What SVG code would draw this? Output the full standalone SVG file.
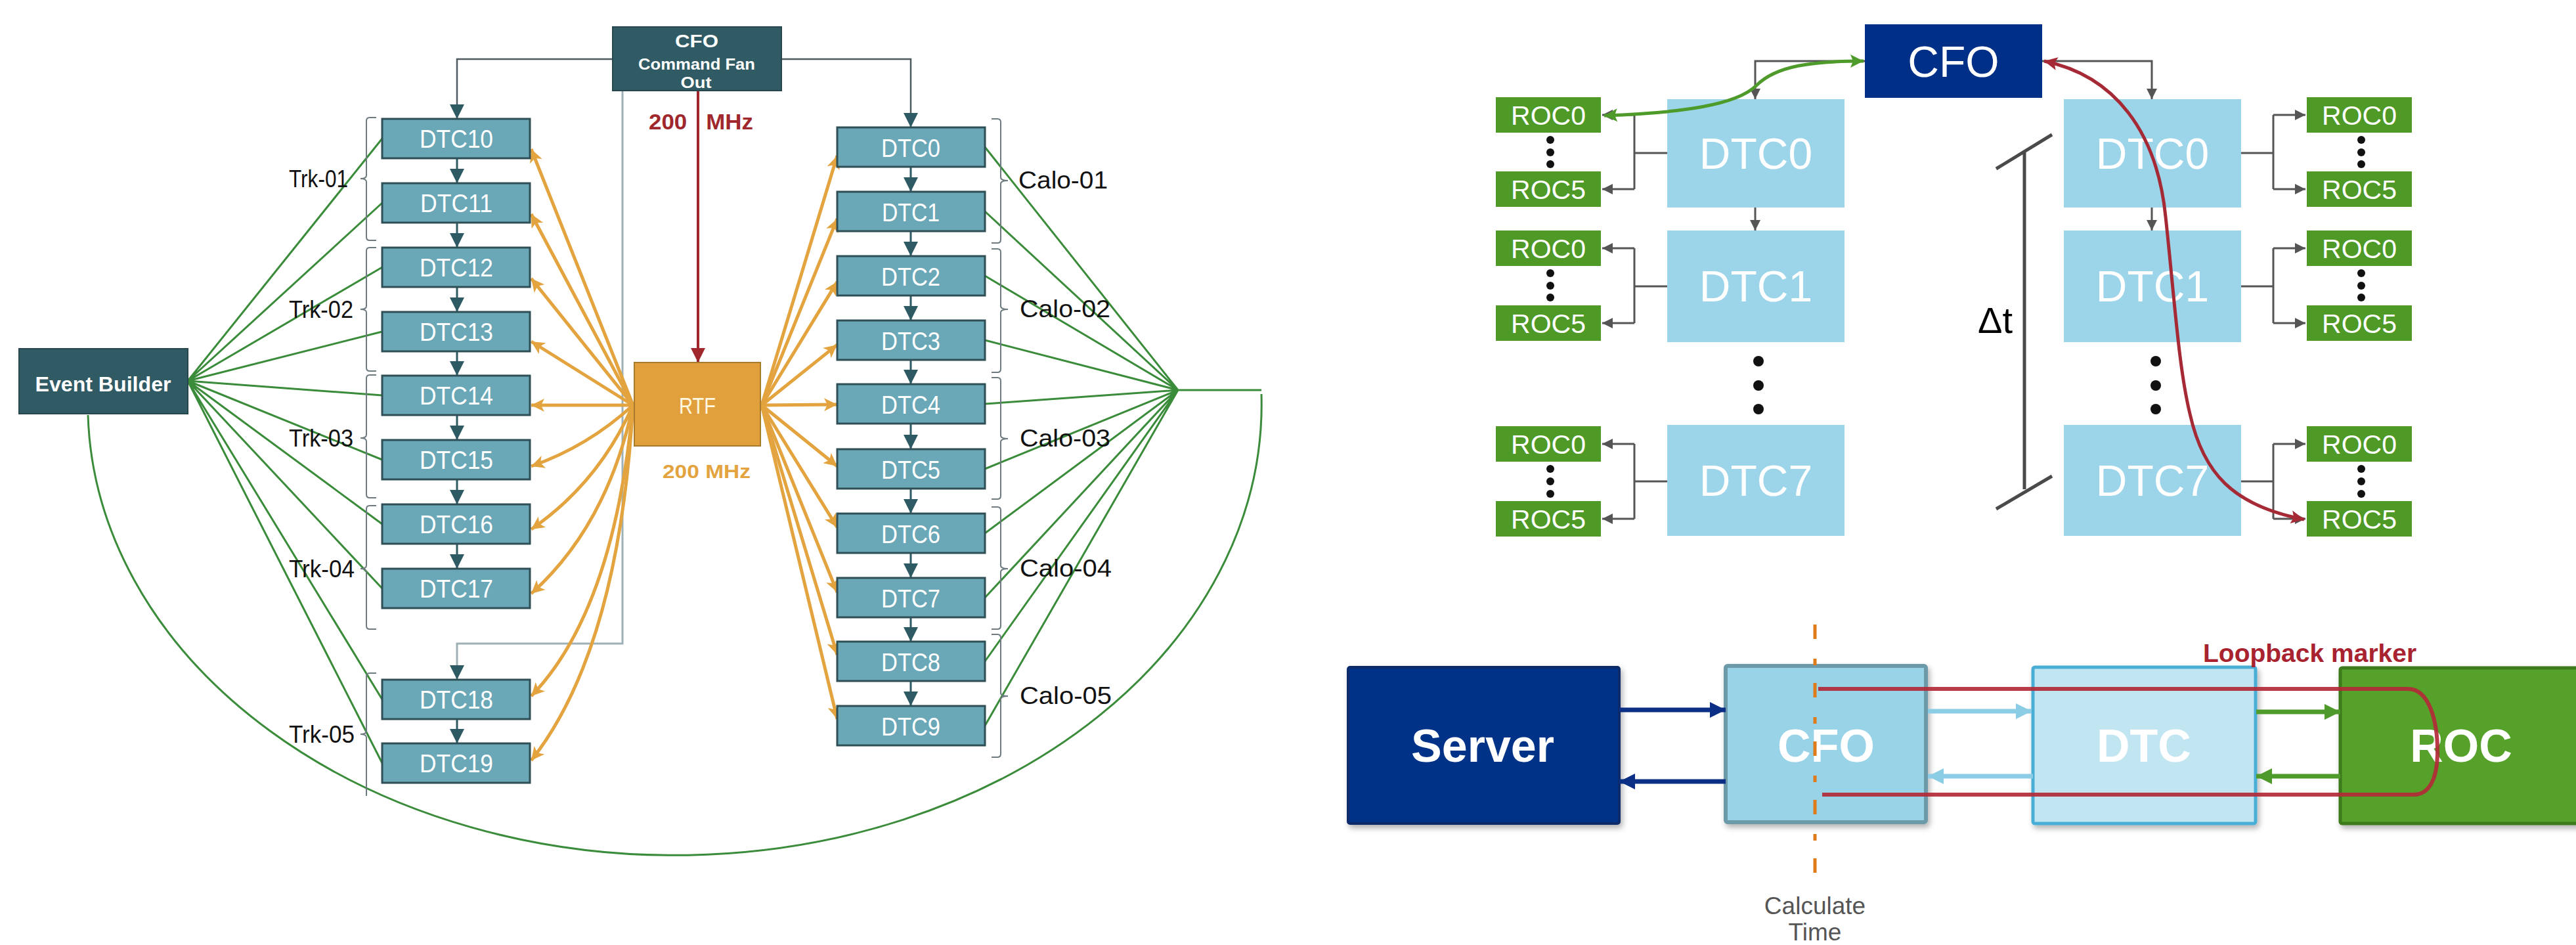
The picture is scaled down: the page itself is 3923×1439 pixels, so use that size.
<svg xmlns="http://www.w3.org/2000/svg" width="3923" height="1439" viewBox="0 0 3923 1439">
<style>
.dtc{fill:#6AA7B7;stroke:#2F4F57;stroke-width:3}
.dk{fill:#305B64;stroke:#27464D;stroke-width:2}
.dl{font-family:"Liberation Sans",Arial,sans-serif;font-size:38px;fill:#fff;text-anchor:middle}
.lbl{font-family:"Liberation Sans",Arial,sans-serif;font-size:36px;fill:#111}
.br{fill:none;stroke:#6d7b80;stroke-width:2}
.gr{fill:none;stroke:#3A8C3A;stroke-width:3}
.or{fill:none;stroke:#E3A33E;stroke-width:5;marker-end:url(#mO)}
.tl{fill:none;stroke:#2E5A64;stroke-width:3;marker-end:url(#mT)}
.roc{fill:#4F9A26}
.rl{font-family:"Liberation Sans",Arial,sans-serif;font-size:41px;fill:#fff;text-anchor:middle}
.lb{fill:#9CD5E9}
.bl{font-family:"Liberation Sans",Arial,sans-serif;font-size:66px;fill:#fff;text-anchor:middle}
.gc{fill:none;stroke:#555;stroke-width:3}
.ga{fill:none;stroke:#555;stroke-width:3;marker-end:url(#mG)}
.bb{font-family:"Liberation Sans",Arial,sans-serif;font-size:70px;font-weight:bold;fill:#fff;text-anchor:middle}
</style>
<defs>
<marker id="mT" viewBox="0 0 10 10" refX="10" refY="5" markerWidth="22" markerHeight="22" markerUnits="userSpaceOnUse" orient="auto"><path d="M0,0 L10,5 L0,10 z" fill="#2E5A64"/></marker>
<marker id="mO" viewBox="0 0 10 10" refX="10" refY="5" markerWidth="26" markerHeight="20" markerUnits="userSpaceOnUse" orient="auto"><path d="M0,0 L10,5 L0,10 L2.5,5 z" fill="#E3A33E"/></marker>
<marker id="mR" viewBox="0 0 10 10" refX="10" refY="5" markerWidth="22" markerHeight="22" markerUnits="userSpaceOnUse" orient="auto"><path d="M0,0 L10,5 L0,10 z" fill="#A0282D"/></marker>
<marker id="mG" viewBox="0 0 10 10" refX="10" refY="5" markerWidth="18" markerHeight="16" markerUnits="userSpaceOnUse" orient="auto"><path d="M0,0 L10,5 L0,10 z" fill="#555"/></marker>
<marker id="mGr" viewBox="0 0 10 10" refX="10" refY="5" markerWidth="24" markerHeight="20" markerUnits="userSpaceOnUse" orient="auto-start-reverse"><path d="M0,0 L10,5 L0,10 L2,5 z" fill="#4E9A2A"/></marker>
<marker id="mRd" viewBox="0 0 10 10" refX="10" refY="5" markerWidth="24" markerHeight="20" markerUnits="userSpaceOnUse" orient="auto-start-reverse"><path d="M0,0 L10,5 L0,10 L2,5 z" fill="#A52A35"/></marker>
<marker id="mN" viewBox="0 0 10 10" refX="10" refY="5" markerWidth="24" markerHeight="30" markerUnits="userSpaceOnUse" orient="auto"><path d="M0,0 L10,5 L0,10 z" fill="#0A2F85"/></marker>
<marker id="mLB" viewBox="0 0 10 10" refX="10" refY="5" markerWidth="24" markerHeight="30" markerUnits="userSpaceOnUse" orient="auto"><path d="M0,0 L10,5 L0,10 z" fill="#8CCDE6"/></marker>
<marker id="mGG" viewBox="0 0 10 10" refX="10" refY="5" markerWidth="24" markerHeight="30" markerUnits="userSpaceOnUse" orient="auto"><path d="M0,0 L10,5 L0,10 z" fill="#4E9A2A"/></marker>
<filter id="sh" x="-10%" y="-10%" width="130%" height="130%"><feDropShadow dx="3" dy="5" stdDeviation="4" flood-color="#000" flood-opacity="0.3"/></filter>
</defs>

<!-- ============ LEFT DIAGRAM ============ -->
<g id="connectors-left">
  <path class="gr" d="M286,580 L582,211 M286,580 L582,309 M286,580 L582,407 M286,580 L582,505 M286,580 L582,602 M286,580 L582,700 M286,580 L582,798 M286,580 L582,896 M286,580 L582,1065 M286,580 L582,1162"/>
  <path class="gr" d="M1500,224 L1794,594 M1500,322 L1794,594 M1500,420 L1794,594 M1500,518 L1794,594 M1500,615 L1794,594 M1500,714 L1794,594 M1500,812 L1794,594 M1500,910 L1794,594 M1500,1007 L1794,594 M1500,1105 L1794,594 M1794,594 L1921,594"/>
  <path class="gr" d="M1921,600 A893,686 0 0 1 134,632"/>
  <path d="M933,90 L696,90 L696,181" fill="none" stroke="#4d5b60" stroke-width="2.5" marker-end="url(#mT)"/>
  <path d="M1190,90 L1387,90 L1387,194" fill="none" stroke="#4d5b60" stroke-width="2.5" marker-end="url(#mT)"/>
  <path d="M948,138 L948,980 L696,980 L696,1035" fill="none" stroke="#9fb1b6" stroke-width="3" marker-end="url(#mT)"/>
  <path d="M1063,138 L1063,552" fill="none" stroke="#A0282D" stroke-width="4" marker-end="url(#mR)"/>
  <path class="tl" d="M696,241 L696,279"/>
  <path class="tl" d="M696,339 L696,377"/>
  <path class="tl" d="M696,437 L696,475"/>
  <path class="tl" d="M696,535 L696,572"/>
  <path class="tl" d="M696,632 L696,670"/>
  <path class="tl" d="M696,730 L696,768"/>
  <path class="tl" d="M696,828 L696,866"/>
  <path class="tl" d="M696,1095 L696,1132"/>
  <path class="tl" d="M1387,254 L1387,292"/>
  <path class="tl" d="M1387,352 L1387,390"/>
  <path class="tl" d="M1387,450 L1387,488"/>
  <path class="tl" d="M1387,548 L1387,585"/>
  <path class="tl" d="M1387,645 L1387,684"/>
  <path class="tl" d="M1387,744 L1387,782"/>
  <path class="tl" d="M1387,842 L1387,880"/>
  <path class="tl" d="M1387,940 L1387,977"/>
  <path class="tl" d="M1387,1037 L1387,1075"/>
  <path class="or" d="M964,617 L809,227"/>
  <path class="or" d="M964,617 L809,326"/>
  <path class="or" d="M964,617 L809,424"/>
  <path class="or" d="M964,617 L809,520"/>
  <path class="or" d="M964,617 L809,617"/>
  <path class="or" d="M964,617 Q895,680 809,710"/>
  <path class="or" d="M964,617 Q912,735 809,806"/>
  <path class="or" d="M964,617 Q925,800 809,904"/>
  <path class="or" d="M964,617 Q935,930 809,1060"/>
  <path class="or" d="M964,617 Q942,990 809,1158"/>
  <path class="or" d="M1160,617 L1275,237"/>
  <path class="or" d="M1160,617 L1275,333"/>
  <path class="or" d="M1160,617 L1275,429"/>
  <path class="or" d="M1160,617 L1275,525"/>
  <path class="or" d="M1160,617 L1275,616"/>
  <path class="or" d="M1160,617 L1275,710"/>
  <path class="or" d="M1160,617 L1275,803"/>
  <path class="or" d="M1160,617 L1275,902"/>
  <path class="or" d="M1160,617 L1275,997"/>
  <path class="or" d="M1160,617 L1275,1095"/>
</g>

<g id="brackets">
  <path class="br" d="M573,179 L563,179 Q558,179 558,184 L558,267 Q558,272 549,272 Q558,272 558,277 L558,361 Q558,366 563,366 L573,366"/>
  <path class="br" d="M573,377 L563,377 Q558,377 558,382 L558,466 Q558,471 549,471 Q558,471 558,476 L558,560 Q558,565 563,565 L573,565"/>
  <path class="br" d="M573,571 L563,571 Q558,571 558,576 L558,662 Q558,667 549,667 Q558,667 558,672 L558,753 Q558,758 563,758 L573,758"/>
  <path class="br" d="M573,770 L563,770 Q558,770 558,775 L558,861 Q558,866 549,866 Q558,866 558,871 L558,953 Q558,958 563,958 L573,958"/>
  <path class="br" d="M573,1025 L563,1025 Q558,1025 558,1030 L558,1113 Q558,1118 549,1118 Q558,1118 558,1123 L558,1212"/>
  <path class="br" d="M1510,181 L1519,181 Q1524,181 1524,186 L1524,270 Q1524,275 1535,275 Q1524,275 1524,280 L1524,365 Q1524,370 1519,370 L1510,370"/>
  <path class="br" d="M1510,379 L1519,379 Q1524,379 1524,384 L1524,466 Q1524,471 1535,471 Q1524,471 1524,476 L1524,562 Q1524,567 1519,567 L1510,567"/>
  <path class="br" d="M1510,575 L1519,575 Q1524,575 1524,580 L1524,663 Q1524,668 1535,668 Q1524,668 1524,673 L1524,755 Q1524,760 1519,760 L1510,760"/>
  <path class="br" d="M1510,772 L1519,772 Q1524,772 1524,777 L1524,861 Q1524,866 1535,866 Q1524,866 1524,871 L1524,953 Q1524,958 1519,958 L1510,958"/>
  <path class="br" d="M1510,966 L1519,966 Q1524,966 1524,971 L1524,1055 Q1524,1060 1535,1060 Q1524,1060 1524,1065 L1524,1148 Q1524,1153 1519,1153 L1510,1153"/>
  <text class="lbl" x="440" y="285" textLength="90" lengthAdjust="spacingAndGlyphs">Trk-01</text>
  <text class="lbl" x="440" y="484" textLength="98" lengthAdjust="spacingAndGlyphs">Trk-02</text>
  <text class="lbl" x="440" y="680" textLength="98" lengthAdjust="spacingAndGlyphs">Trk-03</text>
  <text class="lbl" x="440" y="879" textLength="100" lengthAdjust="spacingAndGlyphs">Trk-04</text>
  <text class="lbl" x="440" y="1131" textLength="100" lengthAdjust="spacingAndGlyphs">Trk-05</text>
  <text class="lbl" x="1551" y="287" textLength="136" lengthAdjust="spacingAndGlyphs">Calo-01</text>
  <text class="lbl" x="1553" y="483" textLength="138" lengthAdjust="spacingAndGlyphs">Calo-02</text>
  <text class="lbl" x="1553" y="680" textLength="138" lengthAdjust="spacingAndGlyphs">Calo-03</text>
  <text class="lbl" x="1553" y="878" textLength="140" lengthAdjust="spacingAndGlyphs">Calo-04</text>
  <text class="lbl" x="1553" y="1072" textLength="140" lengthAdjust="spacingAndGlyphs">Calo-05</text>
</g>

<g id="event-builder">
  <rect class="dk" x="29" y="531" width="257" height="99"/>
  <text x="157" y="596" font-family="Liberation Sans, Arial, sans-serif" font-size="31" font-weight="bold" fill="#fff" text-anchor="middle" textLength="207" lengthAdjust="spacingAndGlyphs">Event Builder</text>
</g>
<g id="cfo-left">
  <rect class="dk" x="933" y="41" width="257" height="97"/>
  <text x="1061" y="72" font-family="Liberation Sans, Arial, sans-serif" font-size="28" font-weight="bold" fill="#fff" text-anchor="middle" textLength="66" lengthAdjust="spacingAndGlyphs">CFO</text>
  <text x="1061" y="106" font-family="Liberation Sans, Arial, sans-serif" font-size="24" font-weight="bold" fill="#fff" text-anchor="middle" textLength="178" lengthAdjust="spacingAndGlyphs">Command Fan</text>
  <text x="1060" y="134" font-family="Liberation Sans, Arial, sans-serif" font-size="24" font-weight="bold" fill="#fff" text-anchor="middle" textLength="47" lengthAdjust="spacingAndGlyphs">Out</text>
</g>
<text id="label-200-red" x="988" y="197" font-family="Liberation Sans, Arial, sans-serif" font-size="33" font-weight="bold" fill="#A0282D" textLength="159" lengthAdjust="spacingAndGlyphs" xml:space="preserve">200   MHz</text>
<g id="rtf">
  <rect x="966" y="552" width="192" height="127" fill="#E2A03D" stroke="#A87A2E" stroke-width="2"/>
  <text x="1062" y="630" font-family="Liberation Sans, Arial, sans-serif" font-size="35" fill="#FFF8E0" text-anchor="middle" textLength="56" lengthAdjust="spacingAndGlyphs">RTF</text>
</g>
<text id="label-200-orange" x="1009" y="728" font-family="Liberation Sans, Arial, sans-serif" font-size="30" font-weight="bold" fill="#E3A33E" textLength="134" lengthAdjust="spacingAndGlyphs">200 MHz</text>

<g id="dtc10"><rect class="dtc" x="582" y="181" width="225" height="60"/><text class="dl" x="695" y="225" textLength="112" lengthAdjust="spacingAndGlyphs">DTC10</text></g>
<g id="dtc11"><rect class="dtc" x="582" y="279" width="225" height="60"/><text class="dl" x="695" y="323" textLength="110" lengthAdjust="spacingAndGlyphs">DTC11</text></g>
<g id="dtc12"><rect class="dtc" x="582" y="377" width="225" height="60"/><text class="dl" x="695" y="421" textLength="112" lengthAdjust="spacingAndGlyphs">DTC12</text></g>
<g id="dtc13"><rect class="dtc" x="582" y="475" width="225" height="60"/><text class="dl" x="695" y="519" textLength="112" lengthAdjust="spacingAndGlyphs">DTC13</text></g>
<g id="dtc14"><rect class="dtc" x="582" y="572" width="225" height="60"/><text class="dl" x="695" y="616" textLength="112" lengthAdjust="spacingAndGlyphs">DTC14</text></g>
<g id="dtc15"><rect class="dtc" x="582" y="670" width="225" height="60"/><text class="dl" x="695" y="714" textLength="112" lengthAdjust="spacingAndGlyphs">DTC15</text></g>
<g id="dtc16"><rect class="dtc" x="582" y="768" width="225" height="60"/><text class="dl" x="695" y="812" textLength="112" lengthAdjust="spacingAndGlyphs">DTC16</text></g>
<g id="dtc17"><rect class="dtc" x="582" y="866" width="225" height="60"/><text class="dl" x="695" y="910" textLength="112" lengthAdjust="spacingAndGlyphs">DTC17</text></g>
<g id="dtc18"><rect class="dtc" x="582" y="1035" width="225" height="60"/><text class="dl" x="695" y="1079" textLength="112" lengthAdjust="spacingAndGlyphs">DTC18</text></g>
<g id="dtc19"><rect class="dtc" x="582" y="1132" width="225" height="60"/><text class="dl" x="695" y="1176" textLength="112" lengthAdjust="spacingAndGlyphs">DTC19</text></g>

<g id="dtc0"><rect class="dtc" x="1275" y="194" width="225" height="60"/><text class="dl" x="1387" y="239" textLength="90" lengthAdjust="spacingAndGlyphs">DTC0</text></g>
<g id="dtc1"><rect class="dtc" x="1275" y="292" width="225" height="60"/><text class="dl" x="1387" y="337" textLength="88" lengthAdjust="spacingAndGlyphs">DTC1</text></g>
<g id="dtc2"><rect class="dtc" x="1275" y="390" width="225" height="60"/><text class="dl" x="1387" y="435" textLength="90" lengthAdjust="spacingAndGlyphs">DTC2</text></g>
<g id="dtc3"><rect class="dtc" x="1275" y="488" width="225" height="60"/><text class="dl" x="1387" y="533" textLength="90" lengthAdjust="spacingAndGlyphs">DTC3</text></g>
<g id="dtc4"><rect class="dtc" x="1275" y="585" width="225" height="60"/><text class="dl" x="1387" y="630" textLength="90" lengthAdjust="spacingAndGlyphs">DTC4</text></g>
<g id="dtc5"><rect class="dtc" x="1275" y="684" width="225" height="60"/><text class="dl" x="1387" y="729" textLength="90" lengthAdjust="spacingAndGlyphs">DTC5</text></g>
<g id="dtc6"><rect class="dtc" x="1275" y="782" width="225" height="60"/><text class="dl" x="1387" y="827" textLength="90" lengthAdjust="spacingAndGlyphs">DTC6</text></g>
<g id="dtc7"><rect class="dtc" x="1275" y="880" width="225" height="60"/><text class="dl" x="1387" y="925" textLength="90" lengthAdjust="spacingAndGlyphs">DTC7</text></g>
<g id="dtc8"><rect class="dtc" x="1275" y="977" width="225" height="60"/><text class="dl" x="1387" y="1022" textLength="90" lengthAdjust="spacingAndGlyphs">DTC8</text></g>
<g id="dtc9"><rect class="dtc" x="1275" y="1075" width="225" height="60"/><text class="dl" x="1387" y="1120" textLength="90" lengthAdjust="spacingAndGlyphs">DTC9</text></g>

<!-- ============ TOP RIGHT DIAGRAM ============ -->
<g id="connectors-topright">
  <path class="ga" d="M2840,93 L2673,93 L2673,151"/>
  <path class="ga" d="M3110,93 L3277,93 L3277,151"/>
  <path class="ga" d="M2673,316 L2673,351"/>
  <path class="ga" d="M3277,316 L3277,351"/>
  <path class="gc" d="M2539,233 L2489,233 M2489,175 L2489,288"/>
  <path class="ga" d="M2489,175 L2440,175"/>
  <path class="ga" d="M2489,288 L2440,288"/>
  <path class="gc" d="M2539,436 L2489,436 M2489,378 L2489,492"/>
  <path class="ga" d="M2489,378 L2440,378"/>
  <path class="ga" d="M2489,492 L2440,492"/>
  <path class="gc" d="M2539,733 L2489,733 M2489,676 L2489,790"/>
  <path class="ga" d="M2489,676 L2440,676"/>
  <path class="ga" d="M2489,790 L2440,790"/>
  <path class="gc" d="M3413,233 L3462,233 M3462,175 L3462,288"/>
  <path class="ga" d="M3462,175 L3511,175"/>
  <path class="ga" d="M3462,288 L3511,288"/>
  <path class="gc" d="M3413,436 L3462,436 M3462,378 L3462,492"/>
  <path class="ga" d="M3462,378 L3511,378"/>
  <path class="ga" d="M3462,492 L3511,492"/>
  <path class="gc" d="M3413,733 L3462,733 M3462,676 L3462,790"/>
  <path class="ga" d="M3462,676 L3511,676"/>
  <path class="ga" d="M3462,790 L3511,790"/>
</g>

<g id="cfo-top"><rect x="2840" y="37" width="270" height="112" fill="#002F87"/><text class="bl" x="2975" y="117">CFO</text></g>

<g id="dtc0-l"><rect class="lb" x="2539" y="151" width="270" height="165"/><text class="bl" x="2674" y="257" font-size="64">DTC0</text></g>
<g id="dtc1-l"><rect class="lb" x="2539" y="351" width="270" height="170"/><text class="bl" x="2674" y="459" font-size="64">DTC1</text></g>
<g id="dtc7-l"><rect class="lb" x="2539" y="647" width="270" height="169"/><text class="bl" x="2674" y="755" font-size="64">DTC7</text></g>
<g id="dtc0-r"><rect class="lb" x="3143" y="151" width="270" height="165"/><text class="bl" x="3278" y="257" font-size="64">DTC0</text></g>
<g id="dtc1-r"><rect class="lb" x="3143" y="351" width="270" height="170"/><text class="bl" x="3278" y="459" font-size="64">DTC1</text></g>
<g id="dtc7-r"><rect class="lb" x="3143" y="647" width="270" height="169"/><text class="bl" x="3278" y="755" font-size="64">DTC7</text></g>

<g id="dots-topright" fill="#111">
  <circle cx="2678" cy="550" r="8"/><circle cx="2678" cy="587" r="8"/><circle cx="2678" cy="623" r="8"/>
  <circle cx="3283" cy="550" r="8"/><circle cx="3283" cy="587" r="8"/><circle cx="3283" cy="623" r="8"/>
  <circle cx="2361" cy="213" r="6"/><circle cx="2361" cy="232" r="6"/><circle cx="2361" cy="250" r="6"/>
  <circle cx="2361" cy="416" r="6"/><circle cx="2361" cy="435" r="6"/><circle cx="2361" cy="453" r="6"/>
  <circle cx="2361" cy="714" r="6"/><circle cx="2361" cy="733" r="6"/><circle cx="2361" cy="752" r="6"/>
  <circle cx="3596" cy="213" r="6"/><circle cx="3596" cy="232" r="6"/><circle cx="3596" cy="250" r="6"/>
  <circle cx="3596" cy="416" r="6"/><circle cx="3596" cy="435" r="6"/><circle cx="3596" cy="453" r="6"/>
  <circle cx="3596" cy="714" r="6"/><circle cx="3596" cy="733" r="6"/><circle cx="3596" cy="752" r="6"/>
</g>

<g id="rocs-left">
  <g id="roc0-l0"><rect class="roc" x="2278" y="148" width="160" height="54"/><text class="rl" x="2358" y="190">ROC0</text></g>
  <g id="roc5-l0"><rect class="roc" x="2278" y="261" width="160" height="54"/><text class="rl" x="2358" y="303">ROC5</text></g>
  <g id="roc0-l1"><rect class="roc" x="2278" y="351" width="160" height="54"/><text class="rl" x="2358" y="393">ROC0</text></g>
  <g id="roc5-l1"><rect class="roc" x="2278" y="465" width="160" height="54"/><text class="rl" x="2358" y="507">ROC5</text></g>
  <g id="roc0-l7"><rect class="roc" x="2278" y="649" width="160" height="54"/><text class="rl" x="2358" y="691">ROC0</text></g>
  <g id="roc5-l7"><rect class="roc" x="2278" y="763" width="160" height="54"/><text class="rl" x="2358" y="805">ROC5</text></g>
</g>
<g id="rocs-right">
  <g id="roc0-r0"><rect class="roc" x="3513" y="148" width="160" height="54"/><text class="rl" x="3593" y="190">ROC0</text></g>
  <g id="roc5-r0"><rect class="roc" x="3513" y="261" width="160" height="54"/><text class="rl" x="3593" y="303">ROC5</text></g>
  <g id="roc0-r1"><rect class="roc" x="3513" y="351" width="160" height="54"/><text class="rl" x="3593" y="393">ROC0</text></g>
  <g id="roc5-r1"><rect class="roc" x="3513" y="465" width="160" height="54"/><text class="rl" x="3593" y="507">ROC5</text></g>
  <g id="roc0-r7"><rect class="roc" x="3513" y="649" width="160" height="54"/><text class="rl" x="3593" y="691">ROC0</text></g>
  <g id="roc5-r7"><rect class="roc" x="3513" y="763" width="160" height="54"/><text class="rl" x="3593" y="805">ROC5</text></g>
</g>

<g id="delta-t">
  <path d="M3083,232 L3083,745 M3040,257 L3125,205 M3040,775 L3125,725" fill="none" stroke="#4a4a4a" stroke-width="5"/>
  <text x="3012" y="507" font-family="Liberation Sans, Arial, sans-serif" font-size="56" fill="#000">Δt</text>
</g>

<g id="curves-topright">
  <path d="M2443,176 C2560,172 2645,160 2675,130 C2705,100 2760,93 2838,93" fill="none" stroke="#4E9A2A" stroke-width="5" marker-start="url(#mGr)" marker-end="url(#mGr)"/>
  <path d="M3113,93 C3220,115 3285,200 3298,330 C3312,460 3318,560 3335,630 C3355,720 3400,770 3509,791" fill="none" stroke="#A52A35" stroke-width="5" marker-start="url(#mRd)" marker-end="url(#mRd)"/>
</g>

<!-- ============ BOTTOM RIGHT DIAGRAM ============ -->
<g id="server"><rect x="2053" y="1016" width="413" height="238" rx="3" fill="#003087" stroke="#0B2A6B" stroke-width="4" filter="url(#sh)"/><text class="bb" x="2258" y="1160">Server</text></g>
<g id="cfo-bottom"><rect x="2628" y="1014" width="305" height="238" rx="3" fill="#99D3E8" stroke="#6C9AA8" stroke-width="6" filter="url(#sh)"/><text class="bb" x="2781" y="1160">CFO</text></g>
<g id="dtc-bottom"><rect x="3096" y="1016" width="339" height="238" rx="3" fill="#C2E5F2" stroke="#4AAED6" stroke-width="5" filter="url(#sh)"/><text class="bb" x="3265" y="1160">DTC</text></g>
<g id="roc-bottom"><rect x="3564" y="1017" width="380" height="237" rx="3" fill="#55A12A" stroke="#3C7A1C" stroke-width="5" filter="url(#sh)"/><text class="bb" x="3748" y="1160">ROC</text></g>

<g id="connectors-bottom">
  <path d="M2466,1081 L2628,1081" stroke="#0A2F85" stroke-width="7" fill="none" marker-end="url(#mN)"/>
  <path d="M2628,1190 L2466,1190" stroke="#0A2F85" stroke-width="7" fill="none" marker-end="url(#mN)"/>
  <path d="M2936,1083 L3094,1083" stroke="#8CCDE6" stroke-width="7" fill="none" marker-end="url(#mLB)"/>
  <path d="M3096,1182 L2936,1182" stroke="#8CCDE6" stroke-width="7" fill="none" marker-end="url(#mLB)"/>
  <path d="M3436,1084 L3564,1084" stroke="#4E9A2A" stroke-width="7" fill="none" marker-end="url(#mGG)"/>
  <path d="M3564,1182 L3436,1182" stroke="#4E9A2A" stroke-width="7" fill="none" marker-end="url(#mGG)"/>
  <path d="M2769,1049 L3667,1049 C3700,1049 3713,1100 3712,1150 C3711,1185 3700,1210 3676,1210 L2775,1210" fill="none" stroke="#B22A37" stroke-width="6" stroke-opacity="0.92"/>
  <path d="M2764,951 L2764,1358" fill="none" stroke="#E07B1A" stroke-width="5" stroke-dasharray="22,30,10,27"/>
</g>
<text id="loopback-label" x="3355" y="1008" font-family="Liberation Sans, Arial, sans-serif" font-size="39" font-weight="bold" fill="#A8232F">Loopback marker</text>
<text id="calc-label" x="2764" y="1392" font-family="Liberation Sans, Arial, sans-serif" font-size="37" fill="#555" text-anchor="middle">Calculate<tspan x="2764" y="1432">Time</tspan></text>
</svg>
